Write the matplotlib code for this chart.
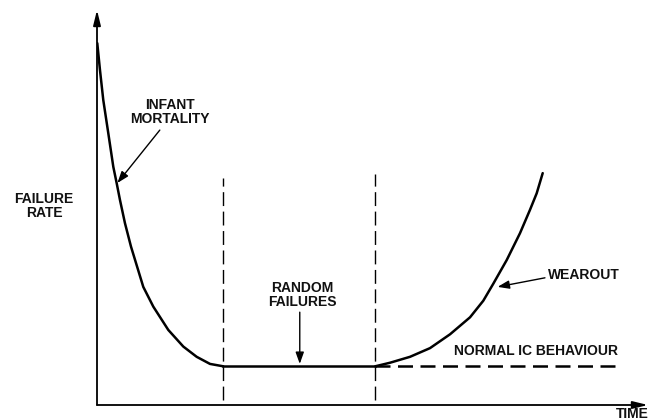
import matplotlib
matplotlib.use('Agg')
import matplotlib.pyplot as plt

# bathtub curve (time and failure rate on a 0..10 scale)
infant_t = [0.005, 0.054, 0.114, 0.205, 0.296, 0.358, 0.417, 0.508, 0.617, 0.840,
            1.022, 1.294, 1.566, 1.809, 2.051, 2.29]
infant_r = [9.16, 8.48, 7.72, 6.88, 6.03, 5.61, 5.19, 4.60, 4.01, 2.99,
            2.49, 1.90, 1.48, 1.22, 1.04, 0.98]

random_t = [2.29, 5.05]
random_r = [0.98, 0.98]

wear_t = [5.05, 5.318, 5.681, 6.044, 6.407, 6.770, 7.011, 7.192, 7.436, 7.677,
          7.858, 7.980, 8.089]
wear_r = [0.98, 1.07, 1.22, 1.44, 1.79, 2.22, 2.64, 3.07, 3.67, 4.35,
          4.94, 5.36, 5.87]

normal_t = [5.05, 9.46]
normal_r = [1.0, 1.0]

# phase boundaries (dashed verticals)
bound_t = [2.29, 5.05]
bound_top = [5.75, 5.85]

plt.rcParams['font.family'] = ['Liberation Sans', 'DejaVu Sans']

fig = plt.figure(figsize=(6.53, 4.2), dpi=100)
ax = fig.add_axes([97 / 653, 15 / 420, 551 / 653, 395 / 420])
ax.set_xlim(0, 10)
ax.set_ylim(0, 10)
ax.axis('off')

fs = 10
txt = dict(fontsize=fs, fontweight='bold', color='#111111', clip_on=False)

# axes with arrow heads
ax.annotate('', xy=(0, 10), xytext=(0, 0),
            arrowprops=dict(arrowstyle='-|>,head_length=0.9,head_width=0.22', lw=1.3,
                            color='black', shrinkA=0, shrinkB=0))
ax.annotate('', xy=(10, 0), xytext=(0, 0),
            arrowprops=dict(arrowstyle='-|>,head_length=0.9,head_width=0.22', lw=1.3,
                            color='black', shrinkA=0, shrinkB=0))

# curve
ax.plot(infant_t, infant_r, color='black', lw=1.8, solid_capstyle='round',
        solid_joinstyle='round')
ax.plot(random_t, random_r, color='black', lw=1.8)
ax.plot(wear_t, wear_r, color='black', lw=1.8, solid_capstyle='round',
        solid_joinstyle='round')
ax.plot(normal_t, normal_r, color='black', lw=1.8, dashes=(6, 3))

for t, top in zip(bound_t, bound_top):
    ax.plot([t, t], [0.13, top], color='black', lw=1.0, dashes=(10, 4))

arrow = dict(arrowstyle='-|>,head_length=0.7,head_width=0.25', lw=1.0, color='black',
             shrinkA=0, shrinkB=0)

ax.text(1.32, 7.42, 'INFANT\nMORTALITY', ha='center', va='center', linespacing=0.95, **txt)
ax.annotate('', xy=(0.37, 5.62), xytext=(1.14, 6.96), arrowprops=arrow)

ax.text(-0.96, 5.04, 'FAILURE\nRATE', ha='center', va='center', linespacing=0.95, **txt)

ax.text(3.72, 2.78, 'RANDOM\nFAILURES', ha='center', va='center', linespacing=0.95, **txt)
ax.annotate('', xy=(3.68, 1.04), xytext=(3.68, 2.35), arrowprops=arrow)

ax.text(8.19, 3.29, 'WEAROUT', ha='left', va='center', **txt)
ax.annotate('', xy=(7.27, 2.99), xytext=(8.13, 3.22), arrowprops=arrow)

ax.text(9.46, 1.37, 'NORMAL IC BEHAVIOUR', ha='right', va='center', **txt)

ax.text(9.72, -0.22, 'TIME', ha='center', va='center', **txt)

fig.savefig('out.png', dpi=100, facecolor='white')
